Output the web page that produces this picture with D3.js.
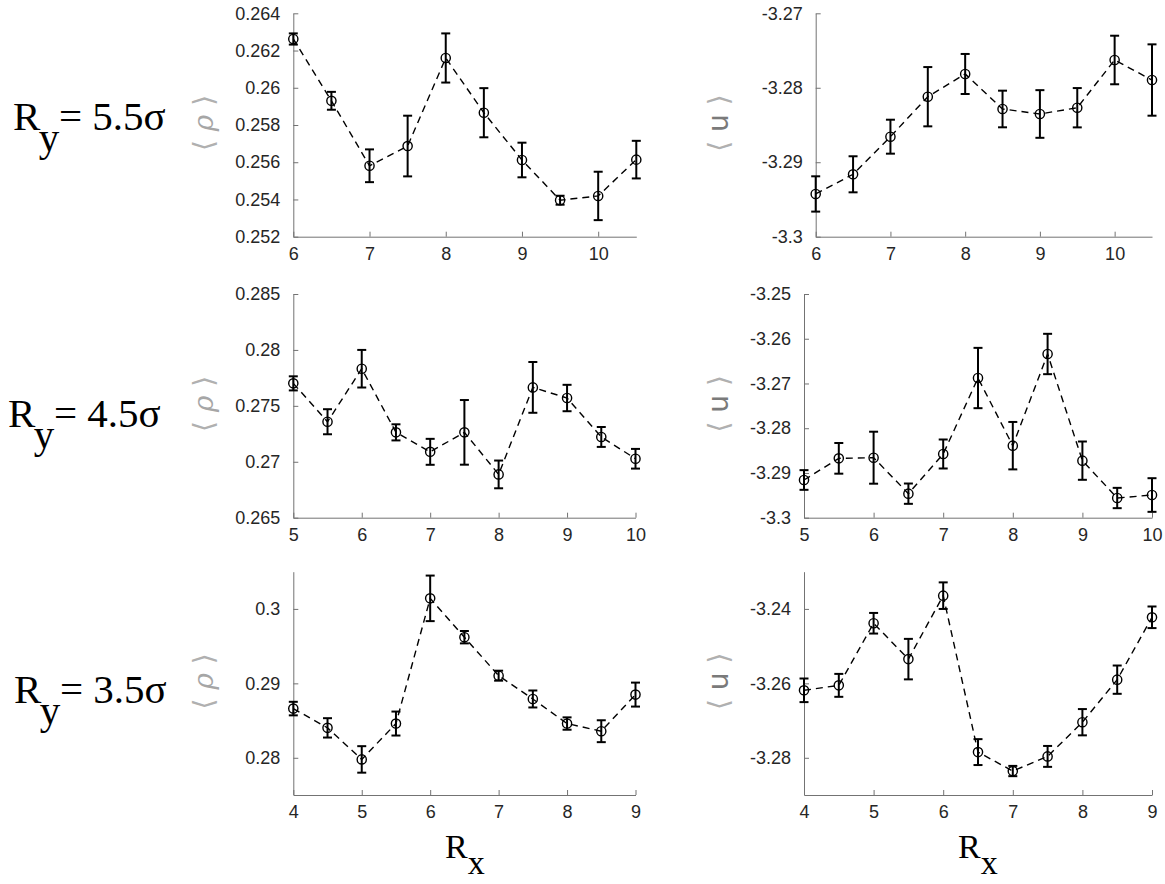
<!DOCTYPE html>
<html>
<head>
<meta charset="utf-8">
<script src="https://cdn.jsdelivr.net/npm/d3@7"></script>
<style>
  html, body { margin: 0; padding: 0; background: #fff; }
  svg { display: block; }
</style>
</head>
<body>
<svg id="chart" width="1165" height="884"></svg>
<script>
// ---------- data ----------
const rx55 = [6, 6.5, 7, 7.5, 8, 8.5, 9, 9.5, 10, 10.5];
const rho55 = [0.26262, 0.2593, 0.25581, 0.25687, 0.2616, 0.25866, 0.25612, 0.25396, 0.25419, 0.25614];
const rho55Err = [0.0003, 0.00048, 0.00088, 0.00163, 0.00132, 0.00132, 0.00093, 0.00024, 0.0013, 0.00101];
const u55 = [-3.29426, -3.29162, -3.28657, -3.2812, -3.27815, -3.28285, -3.28352, -3.28268, -3.27627, -3.27896];
const u55Err = [0.00237, 0.00242, 0.00228, 0.00398, 0.00269, 0.00246, 0.0032, 0.00264, 0.00326, 0.00479];

const rx45 = [5, 5.5, 6, 6.5, 7, 7.5, 8, 8.5, 9, 9.5, 10];
const rho45 = [0.27701, 0.27358, 0.27832, 0.27263, 0.27089, 0.27263, 0.26887, 0.27665, 0.2757, 0.27222, 0.27027];
const rho45Err = [0.00063, 0.00112, 0.00168, 0.00072, 0.00116, 0.00289, 0.00124, 0.00227, 0.00118, 0.00089, 0.00088];
const u45 = [-3.29157, -3.28673, -3.28659, -3.29463, -3.28576, -3.26878, -3.2839, -3.26341, -3.28725, -3.2956, -3.29493];
const u45Err = [0.0022, 0.00343, 0.00581, 0.00227, 0.00324, 0.00674, 0.0053, 0.00451, 0.00428, 0.00227, 0.00376];

const rx35 = [4, 4.5, 5, 5.5, 6, 6.5, 7, 7.5, 8, 8.5, 9];
const rho35 = [0.28661, 0.28402, 0.27978, 0.2846, 0.30142, 0.2962, 0.29103, 0.2879, 0.2846, 0.28357, 0.28849];
const rho35Err = [0.00091, 0.0013, 0.00178, 0.00161, 0.00306, 0.00083, 0.00067, 0.00114, 0.00083, 0.00147, 0.00161];
const u35 = [-3.26187, -3.26054, -3.24385, -3.25349, -3.23644, -3.27847, -3.28356, -3.27963, -3.27044, -3.25901, -3.24225];
const u35Err = [0.00317, 0.00308, 0.00277, 0.00544, 0.00357, 0.00348, 0.00138, 0.00281, 0.00353, 0.0038, 0.0029];

// axis domains and ticks
const xDom55 = [6, 10.5], xTicks55 = [6, 7, 8, 9, 10];
const xDom45 = [5, 10],   xTicks45 = [5, 6, 7, 8, 9, 10];
const xDom35 = [4, 9],    xTicks35 = [4, 5, 6, 7, 8, 9];
const rhoDom55 = [0.252, 0.264], rhoTicks55 = [0.252, 0.254, 0.256, 0.258, 0.26, 0.262, 0.264];
const uDom55 = [-3.3, -3.27],    uTicks55 = [-3.3, -3.29, -3.28, -3.27];
const rhoDom45 = [0.265, 0.285], rhoTicks45 = [0.265, 0.27, 0.275, 0.28, 0.285];
const uDom45 = [-3.3, -3.25],    uTicks45 = [-3.3, -3.29, -3.28, -3.27, -3.26, -3.25];
const rhoDom35 = [0.275, 0.305], rhoTicks35 = [0.28, 0.29, 0.3];
const uDom35 = [-3.29, -3.23],   uTicks35 = [-3.28, -3.26, -3.24];

const rowLabels = ["5.5σ", "4.5σ", "3.5σ"];

// ---------- layout ----------
const svg = d3.select("#chart");
const rows = [
  { top: 13.3, bottom: 236.7, labelY: 130, labelX: 13, val: rowLabels[0] },
  { top: 294, bottom: 517.7, labelY: 427, labelX: 8, val: rowLabels[1] },
  { top: 571.7, bottom: 795, labelY: 703, labelX: 14, val: rowLabels[2] }
];

const panels = [
  { row: 0, left: 293.3, right: 636.3, xs: rx55, ys: rho55, es: rho55Err, xd: xDom55, xt: xTicks55, yd: rhoDom55, yt: rhoTicks55, kind: "rho" },
  { row: 0, left: 815.7, right: 1152, xs: rx55, ys: u55, es: u55Err, xd: xDom55, xt: xTicks55, yd: uDom55, yt: uTicks55, kind: "u" },
  { row: 1, left: 293.3, right: 635.5, xs: rx45, ys: rho45, es: rho45Err, xd: xDom45, xt: xTicks45, yd: rhoDom45, yt: rhoTicks45, kind: "rho" },
  { row: 1, left: 804, right: 1152, xs: rx45, ys: u45, es: u45Err, xd: xDom45, xt: xTicks45, yd: uDom45, yt: uTicks45, kind: "u" },
  { row: 2, left: 293.3, right: 635.5, xs: rx35, ys: rho35, es: rho35Err, xd: xDom35, xt: xTicks35, yd: rhoDom35, yt: rhoTicks35, kind: "rho" },
  { row: 2, left: 804, right: 1152, xs: rx35, ys: u35, es: u35Err, xd: xDom35, xt: xTicks35, yd: uDom35, yt: uTicks35, kind: "u" }
];

const fmt = d => String(+d.toFixed(4));
const axisColor = "#737373";
const tickFont = "'Liberation Sans', Arial, sans-serif";

panels.forEach(p => {
  const r = rows[p.row];
  const x = d3.scaleLinear().domain(p.xd).range([p.left, p.right]);
  const y = d3.scaleLinear().domain(p.yd).range([r.bottom, r.top]);
  const g = svg.append("g");

  // x axis (ticks pointing inward)
  const gx = g.append("g").attr("transform", `translate(0,${r.bottom})`)
    .call(d3.axisBottom(x).tickValues(p.xt).tickFormat(fmt).tickSizeInner(-5).tickSizeOuter(0).tickPadding(9));
  // y axis
  const gy = g.append("g").attr("transform", `translate(${p.left},0)`)
    .call(d3.axisLeft(y).tickValues(p.yt).tickFormat(fmt).tickSizeInner(-5).tickSizeOuter(0).tickPadding(13));
  [gx, gy].forEach(ax => {
    ax.attr("font-size", null).attr("font-family", null);
    ax.select(".domain").attr("stroke", axisColor).attr("stroke-width", 1);
    ax.selectAll(".tick line").attr("stroke", axisColor).attr("stroke-width", 1);
    ax.selectAll(".tick text").attr("fill", "#262626").style("font-size", "18px").style("font-family", tickFont);
  });
  gx.selectAll(".tick text").attr("dy", "0.8em");

  const pts = p.xs.map((xv, i) => ({ x: xv, y: p.ys[i], e: p.es[i] }));

  // dashed connecting line
  g.append("path")
    .datum(pts)
    .attr("fill", "none")
    .attr("stroke", "#000")
    .attr("stroke-width", 1.4)
    .attr("stroke-dasharray", "7,5")
    .attr("d", d3.line().x(d => x(d.x)).y(d => y(d.y)));

  // error bars
  const eb = g.append("g").attr("stroke", "#000").attr("stroke-width", 2);
  eb.selectAll("line.v").data(pts).join("line").attr("class", "v")
    .attr("x1", d => x(d.x)).attr("x2", d => x(d.x))
    .attr("y1", d => y(d.y - d.e)).attr("y2", d => y(d.y + d.e));
  eb.selectAll("line.t").data(pts).join("line").attr("class", "t")
    .attr("x1", d => x(d.x) - 4.5).attr("x2", d => x(d.x) + 4.5)
    .attr("y1", d => y(d.y + d.e)).attr("y2", d => y(d.y + d.e));
  eb.selectAll("line.b").data(pts).join("line").attr("class", "b")
    .attr("x1", d => x(d.x) - 4.5).attr("x2", d => x(d.x) + 4.5)
    .attr("y1", d => y(d.y - d.e)).attr("y2", d => y(d.y - d.e));

  // open circle markers
  g.selectAll("circle").data(pts).join("circle")
    .attr("cx", d => x(d.x)).attr("cy", d => y(d.y)).attr("r", 4.6)
    .attr("fill", "none").attr("stroke", "#000").attr("stroke-width", 1.4);

  // y label
  const cy = (r.top + r.bottom) / 2 - 2;
  const lx = p.kind === "rho" ? 203 : 718;
  const t = g.append("text")
    .attr("transform", `translate(${lx},${cy}) rotate(-90)`)
    .attr("text-anchor", "middle")
    .attr("dominant-baseline", "central")
    .style("font-family", "'DejaVu Sans', sans-serif")
    .style("font-size", "28px")
    .attr("fill", "#b0b0b0");
  t.append("tspan").text("⟨ ");
  if (p.kind === "rho") {
    t.append("tspan").attr("font-style", "italic").style("font-family", "'DejaVu Serif', serif").attr("fill", "#a6a6a6").text("ρ");
  } else {
    t.append("tspan").attr("fill", "#7a7a7a").text("u");
  }
  t.append("tspan").text(" ⟩");
});

// row labels R_y = ...
const serif = "'Liberation Serif', 'DejaVu Serif', serif";
rows.forEach(r => {
  const t = svg.append("text")
    .attr("x", r.labelX).attr("y", r.labelY)
    .style("font-family", serif).style("font-size", "41px").attr("fill", "#000");
  t.append("tspan").text("R");
  t.append("tspan").attr("dy", 21).text("y");
  t.append("tspan").attr("x", r.labelX + 46).attr("dy", -21).text("= " + r.val);
});

// x labels R_x
[456, 969].forEach(cx => {
  const t = svg.append("text")
    .attr("x", cx - 11).attr("y", 858)
    .style("font-family", serif).style("font-size", "34px").attr("fill", "#000");
  t.append("tspan").text("R");
  t.append("tspan").attr("dy", 16).text("x");
});
</script>
</body>
</html>
